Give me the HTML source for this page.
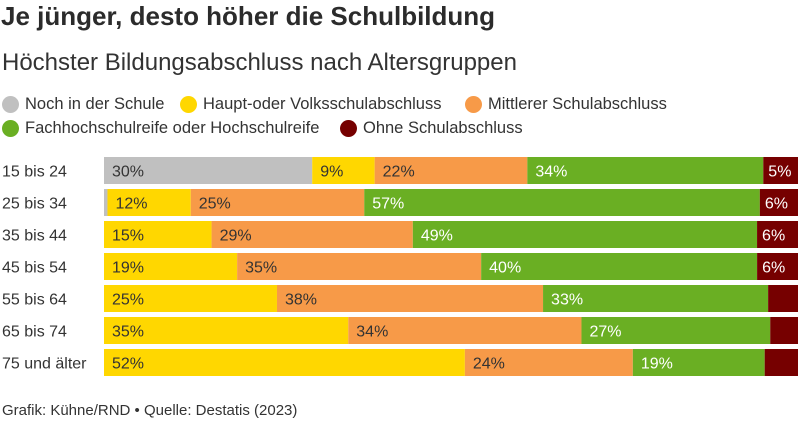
<!DOCTYPE html>
<html><head><meta charset="utf-8"><style>
body{margin:0;background:#fff;font-family:"Liberation Sans",sans-serif;color:#333;}
#wrap{position:relative;width:800px;height:421px;overflow:hidden;}
.t{position:absolute;white-space:nowrap;}
.lg{position:absolute;font-size:16.5px;color:#333;display:flex;align-items:center;}
.dot{width:17px;height:17px;border-radius:50%;margin-right:6px;display:inline-block;}
</style></head><body>
<div id="wrap">
<div class="t" style="left:1px;top:1px;font-size:26px;font-weight:bold;color:#2b2b2b;">Je jünger, desto höher die Schulbildung</div>
<div class="t" style="left:2px;top:49px;font-size:24px;color:#333;">Höchster Bildungsabschluss nach Altersgruppen</div>
<div class="lg" style="left:2px;top:95px;"><span class="dot" style="background:#c0c0c0"></span>Noch in der Schule</div>
<div class="lg" style="left:180px;top:95px;"><span class="dot" style="background:#ffd700"></span>Haupt-oder Volksschulabschluss</div>
<div class="lg" style="left:465px;top:95px;"><span class="dot" style="background:#f79a48"></span>Mittlerer Schulabschluss</div>
<div class="lg" style="left:2px;top:119px;"><span class="dot" style="background:#6aaf23"></span>Fachhochschulreife oder Hochschulreife</div>
<div class="lg" style="left:340px;top:119px;"><span class="dot" style="background:#760000"></span>Ohne Schulabschluss</div>
<svg id="plot" width="800" height="421" style="position:absolute;left:0;top:0"></svg>
<div class="t" style="left:2px;top:402px;font-size:15px;color:#333;">Grafik: Kühne/RND • Quelle: Destatis (2023)</div>
</div>
<script>
const categories=["15 bis 24","25 bis 34","35 bis 44","45 bis 54","55 bis 64","65 bis 74","75 und älter"];
const schule=[30,0.5,0,0,0,0,0];
const haupt=[9,12,15.5,19.2,24.9,35.2,52];
const mittlerer=[22,25,29,35.2,38.3,33.6,24.2];
const hochschul=[34,57,49.6,39.8,32.4,27.2,19];
const ohne=[5,5.5,5.9,5.9,4.3,4,4.8];
const labSchule=["30%","","","","","",""];
const labHaupt=["9%","12%","15%","19%","25%","35%","52%"];
const labMittlerer=["22%","25%","29%","35%","38%","34%","24%"];
const labHoch=["34%","57%","49%","40%","33%","27%","19%"];
const labOhne=["5%","6%","6%","6%","","",""];
const series=[[schule,labSchule,"#c0c0c0","#333","schule"],[haupt,labHaupt,"#ffd700","#333","haupt"],[mittlerer,labMittlerer,"#f79a48","#333","mittlerer"],[hochschul,labHoch,"#6aaf23","#fff","hochschul"],[ohne,labOhne,"#760000","#fff","ohne"]];
const NS="http://www.w3.org/2000/svg",svg=document.getElementById("plot");
const x0=104,x1=798,y0=157,pitch=32,bh=27;
function yPos(i){return y0+i*pitch;}
categories.forEach((c,i)=>{
 const tot=series.reduce((s,r)=>s+r[0][i],0);
 const sx=v=>v/tot*(x1-x0);
 const lt=document.createElementNS(NS,"text");
 
 
 lt.setAttribute("x",2);lt.setAttribute("y",yPos(i)+bh/2+6);lt.setAttribute("font-size","16");lt.setAttribute("fill","#333");lt.setAttribute("font-family","Liberation Sans, sans-serif");lt.textContent=c;svg.appendChild(lt);
 let acc=0;
 series.forEach(s=>{
  const v=s[0][i];if(v<=0)return;
  const r=document.createElementNS(NS,"rect");
  
  
  r.setAttribute("x",x0+sx(acc));r.setAttribute("y",yPos(i));r.setAttribute("width",sx(v));r.setAttribute("height",bh);r.setAttribute("fill",s[2]);svg.appendChild(r);
  if(s[1][i]){const t=document.createElementNS(NS,"text");
   
   
   t.setAttribute("x",x0+sx(acc)+(s[4]=="ohne"?5:8));t.setAttribute("y",yPos(i)+bh/2+6);t.setAttribute("font-size","16");t.setAttribute("fill",s[3]);t.setAttribute("font-family","Liberation Sans, sans-serif");t.textContent=s[1][i];svg.appendChild(t);}
  acc+=v;
 });
});
</script>
</body></html>
